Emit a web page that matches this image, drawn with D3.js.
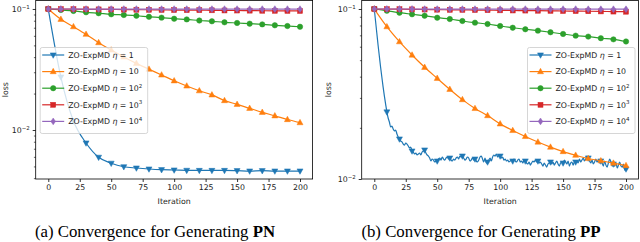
<!DOCTYPE html>
<html><head><meta charset="utf-8">
<script src="https://cdn.jsdelivr.net/npm/d3@7"></script>
<style>body{margin:0;background:#fff;}svg{display:block;}</style>
</head><body>
<svg id="c" width="640" height="242"></svg>
<script>
// ---------------- DATA ----------------
const markIters = [0,10,20,30,40,50,60,70,80,90,100,110,120,130,140,150,160,170,180,190,200];
const xTicks = [0,25,50,75,100,125,150,175,200];
const seriesLabels = ["1","10","10^2","10^3","10^4"];

// (a) PN — values at marker iterations
const pnEta1   = [0.1,0.0274,0.01187,0.00781,0.00595,0.00531,0.00497,0.00485,0.00476,0.00470,0.00467,0.00464,0.00463,0.00463,0.00463,0.00461,0.00458,0.00461,0.00458,0.00458,0.00458];
const pnEta10  = [0.1,0.0822,0.0714,0.0618,0.0527,0.0458,0.0401,0.0355,0.0318,0.0285,0.0255,0.0231,0.0211,0.0195,0.0175,0.0163,0.0151,0.0140,0.0131,0.0122,0.0115];
const pnEta1e2 = [0.1,0.0981,0.0963,0.0939,0.0922,0.0904,0.0892,0.0879,0.0862,0.0848,0.0831,0.0820,0.0803,0.0791,0.0776,0.0766,0.0756,0.0746,0.0733,0.0723,0.0713];
const pnEta1e3 = [0.1,0.0998,0.0996,0.0994,0.0992,0.0991,0.0988,0.0986,0.0985,0.0982,0.0980,0.0978,0.0977,0.0975,0.0972,0.0971,0.0969,0.0967,0.0966,0.0964,0.0963];
const pnEta1e4 = [0.1,0.1,0.1,0.0999,0.0999,0.0999,0.0999,0.0999,0.0998,0.0998,0.0998,0.0998,0.0998,0.0998,0.0997,0.0997,0.0997,0.0997,0.0997,0.0997,0.0997];

// (b) PP — eta=1 at every iteration (index = iteration), others at marker iterations
const ppEta1 = [
 0.1,0.0850,0.0722,0.0614,0.0529,0.0456,0.0398,0.0348,0.0308,0.0276,0.0248,
 0.02285,0.02164,0.02022,0.02050,0.01968,0.01916,0.01942,0.01839,0.01767,0.01719,
 0.01673,0.01651,0.01606,0.01584,0.01628,0.01606,0.01563,0.01522,0.01542,0.01461,
 0.01441,0.01403,0.01422,0.01384,0.01403,0.01422,0.01384,0.01441,0.01461,0.01481,
 0.01422,0.01384,0.01365,0.01329,0.01276,0.01311,0.01293,0.01259,0.01276,0.01276,
 0.01311,0.01329,0.01293,0.01347,0.01311,0.01293,0.01329,0.01347,0.01311,0.01329,
 0.01293,0.01276,0.01311,0.01293,0.01329,0.01347,0.01311,0.01365,0.01347,0.01365,
 0.01329,0.01293,0.01311,0.01347,0.01329,0.01276,0.01293,0.01329,0.01293,0.01311,
 0.01276,0.01259,0.01293,0.01347,0.01365,0.01311,0.01259,0.01329,0.01242,0.01259,
 0.01293,0.01329,0.01276,0.01347,0.01384,0.01365,0.01403,0.01347,0.01384,0.01365,
 0.01329,0.01347,0.01293,0.01311,0.01276,0.01293,0.01259,0.01276,0.01293,0.01276,
 0.01311,0.01276,0.01259,0.01293,0.01311,0.01259,0.01276,0.01242,0.01293,0.01276,
 0.01242,0.01225,0.01259,0.01208,0.01242,0.01276,0.01259,0.01293,0.01259,0.01276,
 0.01242,0.01259,0.01225,0.01192,0.01242,0.01208,0.01176,0.01225,0.01242,0.01259,
 0.01225,0.01259,0.01208,0.01242,0.01276,0.01225,0.01192,0.01242,0.01259,0.01242,
 0.01293,0.01259,0.01225,0.01276,0.01192,0.01242,0.01259,0.01208,0.01259,0.01259,
 0.01276,0.01242,0.01311,0.01259,0.01293,0.01329,0.01276,0.01311,0.01365,0.01329,
 0.01276,0.01242,0.01293,0.01225,0.01259,0.01311,0.01259,0.01293,0.01242,0.01276,
 0.01242,0.01192,0.01276,0.01208,0.01176,0.01242,0.01311,0.01259,0.01192,0.01225,
 0.01192,0.01242,0.01161,0.01208,0.01259,0.01192,0.01176,0.01225,0.01129,0.01145];
const ppEta10  = [0.1,0.0787,0.0642,0.0536,0.0454,0.0391,0.0337,0.0293,0.0260,0.0236,0.0211,0.0193,0.0178,0.0165,0.0154,0.0145,0.0138,0.0132,0.0128,0.0124,0.0120];
const ppEta1e2 = [0.1,0.0977,0.0951,0.0931,0.0913,0.0889,0.0873,0.0850,0.0831,0.0816,0.0794,0.0776,0.0760,0.0746,0.0730,0.0713,0.0697,0.0688,0.0673,0.0663,0.0644];
const ppEta1e3 = [0.1,0.0998,0.0997,0.0995,0.0993,0.0991,0.0989,0.0988,0.0986,0.0984,0.0982,0.0980,0.0979,0.0977,0.0975,0.0973,0.0972,0.0970,0.0968,0.0966,0.0964];
const ppEta1e4 = [0.1,0.1,0.1,0.1,0.0999,0.0999,0.0999,0.0999,0.0999,0.0999,0.0998,0.0998,0.0998,0.0998,0.0998,0.0998,0.0998,0.0997,0.0997,0.0997,0.0997];

const colors = ["#1f77b4","#ff7f0e","#2ca02c","#d62728","#9467bd"];
const symbols = ["triDown","triUp","circle","square","diamond"];

// ---------------- DRAW ----------------
const svg = d3.select("#c");
const FONT = "DejaVu Sans";

function marker(g, type, x, y, color){
  const s = 3;
  let el;
  if(type==="circle") el = g.append("circle").attr("cx",x).attr("cy",y).attr("r",2.7);
  else if(type==="square") el = g.append("rect").attr("x",x-2.5).attr("y",y-2.5).attr("width",5).attr("height",5);
  else if(type==="triUp") el = g.append("path").attr("d",`M${x},${y-s-0.3}L${x+s},${y+s*0.7}L${x-s},${y+s*0.7}Z`);
  else if(type==="triDown") el = g.append("path").attr("d",`M${x},${y+s+0.3}L${x+s},${y-s*0.7}L${x-s},${y-s*0.7}Z`);
  else el = g.append("path").attr("d",`M${x},${y-3.4}L${x+2.3},${y}L${x},${y+3.4}L${x-2.3},${y}Z`);
  el.attr("fill",color).attr("stroke",color).attr("stroke-width",0.5);
}

function supLabel(sel, base, sup, size){
  sel.append("tspan").text(base);
  if(sup) sel.append("tspan").attr("dy",-size*0.42).attr("font-size",size*0.7).text(sup);
}

function panel(opt){
  const {x0,x1,yDomain,series,caption,captionBold,captionX,legendX} = opt;
  const top = 0.5, bottom = 179;
  const x = d3.scaleLinear().domain([-10,210]).range([x0,x1]);
  const y = d3.scaleLog().domain(yDomain).range([bottom,top]);
  const g = svg.append("g");

  const cid = "clip"+Math.round(x0);
  svg.append("clipPath").attr("id",cid).append("rect")
    .attr("x",x0).attr("y",top).attr("width",x1-x0).attr("height",bottom-top);

  const plot = g.append("g").attr("clip-path",`url(#${cid})`);
  const line = d3.line().x(d=>x(d[0])).y(d=>y(d[1])).curve(d3.curveMonotoneX);
  series.forEach((s,i)=>{
    const pts = s.full ? s.values.map((v,k)=>[k,v]) : markIters.map((it,k)=>[it,s.values[k]]);
    plot.append("path").attr("d",line(pts)).attr("fill","none")
      .attr("stroke",colors[i]).attr("stroke-width",1.2).attr("stroke-linejoin","round");
    const mk = s.full ? markIters.map(it=>[it,s.values[it]]) : pts;
    mk.forEach(p=>marker(plot,symbols[i],x(p[0]),y(p[1]),colors[i]));
  });

  g.append("rect").attr("x",x0).attr("y",top).attr("width",x1-x0).attr("height",bottom-top)
    .attr("fill","none").attr("stroke","#000").attr("stroke-width",0.8);

  const xa = g.append("g").attr("transform",`translate(0,${bottom})`)
    .call(d3.axisBottom(x).tickValues(xTicks).tickSize(3).tickPadding(2.5).tickFormat(d3.format("d")));
  xa.select(".domain").remove();
  xa.selectAll("line").attr("stroke","#000").attr("stroke-width",0.8);
  xa.selectAll("text").attr("font-family",FONT).attr("font-size",7.8).attr("fill","#222");

  const majors = y.ticks().filter(v=>Math.abs(Math.log10(v)-Math.round(Math.log10(v)))<1e-9);
  const minors = y.ticks().filter(v=>!majors.includes(v));
  const ya = g.append("g").attr("transform",`translate(${x0},0)`)
    .call(d3.axisLeft(y).tickValues(majors).tickSize(3).tickPadding(3).tickFormat(""));
  ya.select(".domain").remove();
  ya.selectAll("line").attr("stroke","#000").attr("stroke-width",0.8);
  ya.selectAll(".tick").each(function(d){
    const t = d3.select(this).append("text").attr("x",-6).attr("dy","0.32em")
      .attr("text-anchor","end").attr("font-family",FONT).attr("font-size",7.8).attr("fill","#222");
    supLabel(t,"10","\u2212"+Math.round(-Math.log10(d)),7.8);
  });
  const ym = g.append("g").attr("transform",`translate(${x0},0)`)
    .call(d3.axisLeft(y).tickValues(minors).tickSize(1.8).tickFormat(""));
  ym.select(".domain").remove();
  ym.selectAll("line").attr("stroke","#000").attr("stroke-width",0.6);

  g.append("text").attr("x",(x(0)+x(200))/2).attr("y",203.5).attr("text-anchor","middle")
    .attr("font-family",FONT).attr("font-size",7.8).attr("fill","#222").text("Iteration");
  g.append("text").attr("transform",`translate(${opt.ylabX},${(top+bottom)/2}) rotate(-90)`)
    .attr("text-anchor","middle").attr("font-family",FONT).attr("font-size",7.8).attr("fill","#222").text("loss");

  const lg = g.append("g");
  const lx = legendX, ly = 47.5, lw = 107.5, lh = 86;
  lg.append("rect").attr("x",lx).attr("y",ly).attr("width",lw).attr("height",lh).attr("rx",2)
    .attr("fill","#fff").attr("fill-opacity",0.8).attr("stroke","#ccc").attr("stroke-width",0.8);
  seriesLabels.forEach((lab,i)=>{
    const yy = ly + 7.5 + i*16.6;
    lg.append("line").attr("x1",lx+2).attr("x2",lx+24).attr("y1",yy).attr("y2",yy)
      .attr("stroke",colors[i]).attr("stroke-width",1.2);
    marker(lg,symbols[i],lx+13,yy,colors[i]);
    const t = lg.append("text").attr("x",lx+28).attr("y",yy).attr("dy","0.35em")
      .attr("font-family",FONT).attr("font-size",7.8).attr("fill","#222");
    t.append("tspan").text("ZO-ExpMD ");
    t.append("tspan").attr("font-style","italic").text("\u03b7");
    const parts = lab.split("^");
    t.append("tspan").text(" = "+parts[0]);
    if(parts[1]) t.append("tspan").attr("dy",-3.3).attr("font-size",5.5).text(parts[1]);
  });

  const ct = svg.append("text").attr("x",captionX).attr("y",237).attr("text-anchor","middle")
    .attr("font-family","Liberation Serif").attr("font-size",16.8).attr("fill","#000");
  ct.append("tspan").text(caption);
  ct.append("tspan").attr("font-weight","bold").text(captionBold);
}

panel({x0:35.7,x1:312.6,yDomain:[0.003936,0.1175],ylabX:7.5,
  series:[{values:pnEta1},{values:pnEta10},{values:pnEta1e2},{values:pnEta1e3},{values:pnEta1e4}],
  caption:"(a) Convergence for Generating ",captionBold:"PN",captionX:155,legendX:40.2});
panel({x0:361.7,x1:638.6,yDomain:[0.01,0.1122],ylabX:331,
  series:[{values:ppEta1,full:true},{values:ppEta10},{values:ppEta1e2},{values:ppEta1e3},{values:ppEta1e4}],
  caption:"(b) Convergence for Generating ",captionBold:"PP",captionX:481,legendX:527.5});
</script>
</body></html>
